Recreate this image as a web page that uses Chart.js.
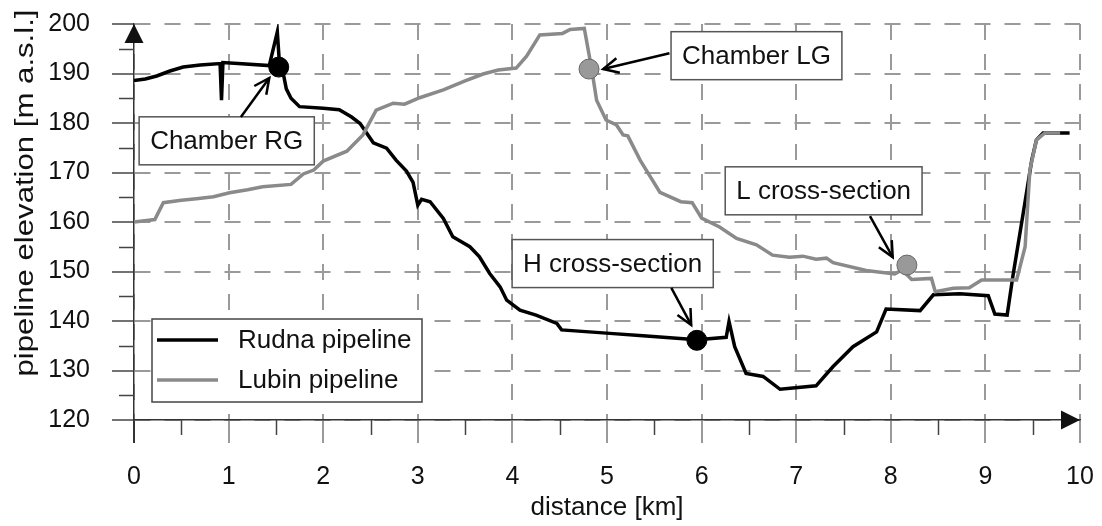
<!DOCTYPE html>
<html>
<head>
<meta charset="utf-8">
<script src="https://cdn.jsdelivr.net/npm/chart.js@4.4.0/dist/chart.umd.min.js"></script>
<style>
    html, body { margin: 0; padding: 0; background: #fff; }
    #wrap { width: 1102px; height: 526px; }
</style>
</head>
<body>
<div id="wrap"><canvas id="elevationChart" width="1102" height="526"></canvas></div>
<script>
// Pipeline profiles (distance in km, elevation in m a.s.l.)
const rudnaKm = [0.00, 0.12, 0.24, 0.38, 0.52, 0.70, 0.91, 0.925, 0.94, 1.10, 1.43, 1.515, 1.54, 1.58, 1.61, 1.66, 1.75, 2.00, 2.17, 2.30, 2.39, 2.53, 2.67, 2.77, 2.88, 2.95, 3.00, 3.04, 3.13, 3.27, 3.37, 3.55, 3.65, 3.76, 3.87, 3.94, 4.08, 4.25, 4.47, 4.52, 5.03, 5.38, 5.95, 6.26, 6.29, 6.35, 6.47, 6.65, 6.83, 7.21, 7.39, 7.60, 7.85, 7.95, 8.31, 8.45, 8.73, 9.03, 9.10, 9.23, 9.29, 9.40, 9.49, 9.54, 9.61, 9.89];
const rudnaElev = [188.6, 188.9, 189.5, 190.5, 191.3, 191.7, 192.0, 184.6, 192.2, 192.0, 191.6, 198.4, 191.3, 189.8, 186.9, 185.0, 183.3, 183.0, 182.7, 181.2, 179.9, 176.0, 174.9, 172.5, 170.3, 168.0, 163.4, 164.6, 164.1, 160.7, 157.0, 155.0, 153.0, 149.6, 146.9, 144.2, 142.2, 141.2, 139.5, 138.2, 137.5, 137.0, 136.2, 136.7, 139.9, 134.8, 129.4, 128.8, 126.2, 126.9, 130.8, 134.8, 137.8, 142.4, 142.1, 145.3, 145.5, 145.1, 141.4, 141.2, 149.0, 161.8, 172.5, 176.6, 178.0, 178.0];

const lubinKm = [0.00, 0.22, 0.31, 0.50, 0.66, 0.84, 1.01, 1.20, 1.36, 1.66, 1.79, 1.90, 2.00, 2.25, 2.42, 2.56, 2.74, 2.86, 3.02, 3.27, 3.50, 3.69, 3.85, 4.04, 4.15, 4.29, 4.53, 4.61, 4.76, 4.84, 4.89, 4.99, 5.10, 5.17, 5.22, 5.35, 5.56, 5.78, 5.90, 6.00, 6.19, 6.37, 6.58, 6.75, 6.93, 7.07, 7.21, 7.32, 7.39, 7.74, 8.04, 8.12, 8.22, 8.43, 8.47, 8.66, 8.83, 8.96, 9.33, 9.42, 9.47, 9.54, 9.63, 9.79];
const lubinElev = [160.0, 160.5, 163.9, 164.4, 164.7, 165.1, 165.9, 166.5, 167.1, 167.6, 169.7, 170.5, 172.3, 174.3, 177.6, 182.6, 184.0, 183.8, 185.1, 186.7, 188.5, 189.9, 190.7, 191.1, 193.5, 197.8, 198.1, 198.9, 199.1, 190.7, 184.6, 180.6, 179.6, 177.6, 177.4, 172.5, 166.0, 164.1, 163.9, 160.8, 159.0, 156.7, 155.4, 153.3, 152.9, 153.1, 152.5, 152.7, 151.8, 150.2, 149.5, 150.3, 148.4, 148.6, 145.9, 146.6, 146.7, 148.3, 148.3, 155.0, 170.5, 176.6, 178.0, 178.0];

// marked locations on the profiles
const markerNames = ['Chamber RG', 'Chamber LG', 'L cross-section', 'H cross-section'];
const markerKm = [1.53, 4.81, 8.17, 5.95];
const markerElev = [191.3, 190.9, 151.3, 136.1];

const xTicks = [0, 1, 2, 3, 4, 5, 6, 7, 8, 9, 10];
const yTicks = [120, 130, 140, 150, 160, 170, 180, 190, 200];

const FONT = "'Liberation Sans', Arial, sans-serif";
const GRID = '#9a9a9a';
const AXIS = '#333';

// callout boxes + arrows, positioned in data units
const callouts = [
    { name: markerNames[0], box: [0.98, 176.4], tail: [1.13, 181.2], tip: [1.43, 189.1] },
    { name: markerNames[1], box: [6.58, 193.6], tail: [5.66, 194.1], tip: [4.96, 190.9] },
    { name: markerNames[2], box: [7.29, 166.3], tail: [7.78, 161.2], tip: [8.02, 152.9] },
    { name: markerNames[3], box: [5.06, 151.6], tail: [5.68, 146.7], tip: [5.89, 139.2] }
];

function toPoints(xs, ys) {
    return xs.map((x, i) => ({ x: x, y: ys[i] }));
}

function drawArrowHead(ctx, x1, y1, x2, y2, len) {
    const a = Math.atan2(y2 - y1, x2 - x1);
    ctx.beginPath();
    ctx.moveTo(x2 - len * Math.cos(a - 0.45), y2 - len * Math.sin(a - 0.45));
    ctx.lineTo(x2, y2);
    ctx.lineTo(x2 - len * Math.cos(a + 0.45), y2 - len * Math.sin(a + 0.45));
    ctx.stroke();
}

// keep the plot area where the figure has it (labels may overhang)
function noScalePadding(scale) {
    scale.paddingTop = 0;
    scale.paddingBottom = 0;
    scale.paddingLeft = 0;
    scale.paddingRight = 0;
}

const decorPlugin = {
    id: 'decor',
    afterDraw(chart) {
        const ctx = chart.ctx;
        const xs = chart.scales.x, ys = chart.scales.y;
        const area = chart.chartArea;

        ctx.save();
        // minor ticks
        ctx.strokeStyle = '#444';
        ctx.lineWidth = 1.5;
        ctx.beginPath();
        for (let v = 125; v < 200; v += 10) {
            const py = Math.round(ys.getPixelForValue(v)) + 0.5;
            ctx.moveTo(area.left - 15, py);
            ctx.lineTo(area.left, py);
        }
        for (let v = 0.5; v < 10; v += 1) {
            const px = Math.round(xs.getPixelForValue(v)) + 0.5;
            ctx.moveTo(px, area.bottom);
            ctx.lineTo(px, area.bottom + 15);
        }
        ctx.stroke();

        // axis arrows
        ctx.fillStyle = '#111';
        ctx.beginPath();
        ctx.moveTo(area.left, area.top);
        ctx.lineTo(area.left - 9.5, area.top + 19);
        ctx.lineTo(area.left + 9.5, area.top + 19);
        ctx.closePath();
        ctx.fill();
        ctx.beginPath();
        ctx.moveTo(area.right, area.bottom);
        ctx.lineTo(area.right - 19, area.bottom - 9.5);
        ctx.lineTo(area.right - 19, area.bottom + 9.5);
        ctx.closePath();
        ctx.fill();

        // y axis title
        ctx.save();
        ctx.translate(26, 193);
        ctx.rotate(-Math.PI / 2);
        ctx.font = '26px ' + FONT;
        ctx.fillStyle = '#111';
        ctx.textAlign = 'center';
        ctx.textBaseline = 'middle';
        const t = 'pipeline elevation [m a.s.l.]';
        const w = ctx.measureText(t).width;
        ctx.scale(367 / w, 1);
        ctx.fillText(t, 0, 0);
        ctx.restore();

        // legend
        const lg = { left: area.left + 18, top: area.bottom - 101, w: 270, h: 83 };
        ctx.fillStyle = '#fff';
        ctx.fillRect(lg.left, lg.top, lg.w, lg.h);
        ctx.strokeStyle = '#444';
        ctx.lineWidth = 1.5;
        ctx.strokeRect(lg.left, lg.top, lg.w, lg.h);
        ctx.font = '26px ' + FONT;
        ctx.textBaseline = 'middle';
        ctx.textAlign = 'left';
        chart.data.datasets.filter(d => !d.isMarker).forEach((d, i) => {
            const cy = lg.top + 21 + i * 40;
            ctx.strokeStyle = d.borderColor;
            ctx.lineWidth = d.borderWidth;
            ctx.beginPath();
            ctx.moveTo(lg.left + 5, cy);
            ctx.lineTo(lg.left + 66, cy);
            ctx.stroke();
            ctx.fillStyle = '#111';
            ctx.fillText(d.label, lg.left + 86, cy + 1);
        });

        // callouts
        callouts.forEach(c => {
            const bx = xs.getPixelForValue(c.box[0]);
            const by = ys.getPixelForValue(c.box[1]);
            const tw = ctx.measureText(c.name).width;
            const bw = tw + 22, bh = 48;
            ctx.fillStyle = '#fff';
            ctx.fillRect(bx - bw / 2, by - bh / 2, bw, bh);
            ctx.strokeStyle = '#555';
            ctx.lineWidth = 1.5;
            ctx.strokeRect(bx - bw / 2, by - bh / 2, bw, bh);
            ctx.fillStyle = '#111';
            ctx.textAlign = 'center';
            ctx.fillText(c.name, bx, by + 1);

            const x1 = xs.getPixelForValue(c.tail[0]), y1 = ys.getPixelForValue(c.tail[1]);
            const x2 = xs.getPixelForValue(c.tip[0]), y2 = ys.getPixelForValue(c.tip[1]);
            ctx.strokeStyle = '#000';
            ctx.lineWidth = 2.5;
            ctx.beginPath();
            ctx.moveTo(x1, y1);
            ctx.lineTo(x2, y2);
            ctx.stroke();
            drawArrowHead(ctx, x1, y1, x2, y2, 17);
        });
        ctx.restore();
    }
};

const ctx = document.getElementById('elevationChart').getContext('2d');
const elevationChart = new Chart(ctx, {
    type: 'line',
    data: {
        datasets: [
            {
                label: 'markers',
                isMarker: true,
                data: toPoints(markerKm, markerElev),
                showLine: false,
                pointRadius: 10,
                pointBackgroundColor: ['#000', '#999', '#999', '#000'],
                pointBorderColor: ['#000', '#666', '#666', '#000'],
                pointBorderWidth: 1,
                order: 0
            },
            {
                label: 'Rudna pipeline',
                data: toPoints(rudnaKm, rudnaElev),
                borderColor: '#000',
                borderWidth: 3.5,
                pointRadius: 0,
                tension: 0,
                order: 2
            },
            {
                label: 'Lubin pipeline',
                data: toPoints(lubinKm, lubinElev),
                borderColor: '#8a8a8a',
                borderWidth: 3.5,
                pointRadius: 0,
                tension: 0,
                order: 1
            }
        ]
    },
    options: {
        responsive: false,
        animation: false,
        devicePixelRatio: 1,
        layout: { padding: { top: 24, right: 22, left: 0, bottom: 0 } },
        plugins: {
            legend: { display: false },
            tooltip: { enabled: false }
        },
        scales: {
            x: {
                type: 'linear',
                min: 0,
                max: 10,
                afterBuildTicks: function(scale) {
                    scale.ticks = xTicks.map(v => ({ value: v }));
                },
                afterFit: function(scale) {
                    scale.height = 106;
                    noScalePadding(scale);
                },
                ticks: {
                    color: '#111',
                    font: { family: FONT, size: 25 },
                    padding: 19,
                    maxRotation: 0
                },
                grid: {
                    color: GRID,
                    lineWidth: 2,
                    tickLength: 23,
                    tickWidth: 2,
                    tickColor: function(c) { return c.tick && c.tick.value === 0 ? AXIS : GRID; }
                },
                border: { display: true, color: AXIS, width: 1.5, dash: [16, 14] },
                title: {
                    display: true,
                    text: 'distance [km]',
                    color: '#111',
                    font: { family: FONT, size: 26 },
                    padding: { top: 0, bottom: 3 }
                }
            },
            y: {
                type: 'linear',
                min: 120,
                max: 200,
                afterBuildTicks: function(scale) {
                    scale.ticks = yTicks.map(v => ({ value: v }));
                },
                afterFit: function(scale) {
                    scale.width = 134;
                    noScalePadding(scale);
                },
                ticks: {
                    color: '#111',
                    font: { family: FONT, size: 25 },
                    padding: 22
                },
                grid: {
                    color: GRID,
                    lineWidth: 2,
                    tickLength: 22,
                    tickWidth: 1.5,
                    tickColor: '#444'
                },
                border: { display: true, color: AXIS, width: 1.5, dash: [16, 14] }
            }
        }
    },
    plugins: [decorPlugin]
});
</script>
</body>
</html>
